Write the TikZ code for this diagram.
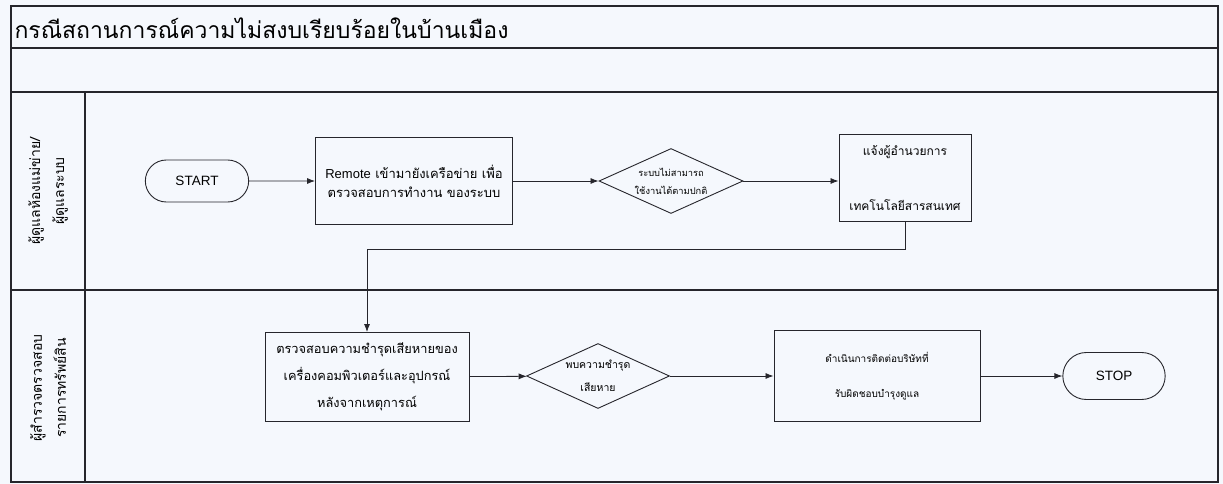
\documentclass[tikz,border=0pt]{standalone}
\usepackage{fontspec}
\setmainfont{Loma}[Script=Thai]
\newfontfamily\latinsf{Liberation Sans}
\usetikzlibrary{shapes.geometric,shapes.misc,arrows.meta}
\definecolor{paper}{RGB}{245,248,253}
\definecolor{ink}{RGB}{38,38,44}
\begin{document}
\begin{tikzpicture}[x=1pt,y=-1pt,
  frame/.style={draw=ink,line width=1.5pt},
  proc/.style={draw=ink,line width=0.9pt,rectangle,align=center,inner sep=2pt,
    font=\fontsize{13}{19}\selectfont},
  term/.style={draw=ink,line width=0.9pt,rounded rectangle,align=center,
    font=\latinsf\fontsize{13.5}{15}\selectfont},
  decision/.style={draw=ink,line width=0.9pt,diamond,inner sep=0pt},
  dtext/.style={align=center,font=\fontsize{9.3}{18}\selectfont},
  lanelabel/.style={rotate=90,align=center,font=\fontsize{14}{24}\selectfont},
  flow/.style={draw=ink,line width=0.8pt,-{Latex[length=8pt,width=6pt]}}
]
% page and swimlane frame
\fill[paper] (0,0) rectangle (1223,484);
\useasboundingbox (0,0) rectangle (1223,484);
\draw[frame] (11,6) rectangle (1218,482);
\draw[frame] (11,48) -- (1218,48);
\draw[frame] (11,92) -- (1218,92);
\draw[frame] (11,290) -- (1218,290);
\draw[frame] (85,92) -- (85,482);

% title and lane headers
\node[anchor=west,font=\fontsize{23}{25}\selectfont] (title) at (11,28)
  {กรณีสถานการณ์ความไม่สงบเรียบร้อยในบ้านเมือง};
\node[lanelabel] (lane1) at (48,191) {ผู้ดูแลห้องแม่ข่าย/\\ผู้ดูแลระบบ};
\node[lanelabel] (lane2) at (48,388) {ผู้สำรวจตรวจสอบ\\รายการทรัพย์สิน};

% lane 1
\node[term,minimum width=110pt,minimum height=42pt] (start) at (197,181) {START};
\node[proc,minimum width=197pt,minimum height=87pt] (remote) at (414,181)
  {\rule{0pt}{14pt}{\latinsf Remote} เข้ามายังเครือข่าย เพื่อ\\ตรวจสอบการทำงาน ของระบบ};
\node[decision,minimum width=144pt,minimum height=65pt] (d1) at (671,181) {};
\node[dtext] (d1t) at (d1) {ระบบไม่สามารถ\\ใช้งานได้ตามปกติ};
\node[proc,minimum width=132pt,minimum height=87pt,font=\fontsize{12}{18}\selectfont]
  (notify) at (905,178) {แจ้งผู้อำนวยการ\\[37pt]เทคโนโลยีสารสนเทศ};

% lane 2
\node[proc,minimum width=204pt,minimum height=89pt,font=\fontsize{12.8}{27}\selectfont]
  (inspect) at (367,377) {ตรวจสอบความชำรุดเสียหายของ\\เครื่องคอมพิวเตอร์และอุปกรณ์\\หลังจากเหตุการณ์};
\node[decision,minimum width=143pt,minimum height=65pt] (d2) at (598,376) {};
\node[dtext,font=\fontsize{10.5}{23}\selectfont] (d2t) at (d2) {พบความชำรุด\\เสียหาย};
\node[proc,minimum width=206pt,minimum height=91pt,font=\fontsize{10}{35}\selectfont]
  (contact) at (877,376) {ดำเนินการติดต่อบริษัทที่\\รับผิดชอบบำรุงดูแล};
\node[term,minimum width=109pt,minimum height=47pt] (stop) at (1114,376) {STOP};

% connectors
\draw[flow] (start) -- (remote);
\draw[flow] (remote) -- (d1);
\draw[flow] (d1.east) -- (d1.east -| notify.west);
\draw[flow] (notify.south) -- ++(0,27) -| (inspect.north);
\draw[flow] (inspect) -- (d2);
\draw[flow] (d2) -- (contact);
\draw[flow] (contact) -- (stop);
\end{tikzpicture}
\end{document}
